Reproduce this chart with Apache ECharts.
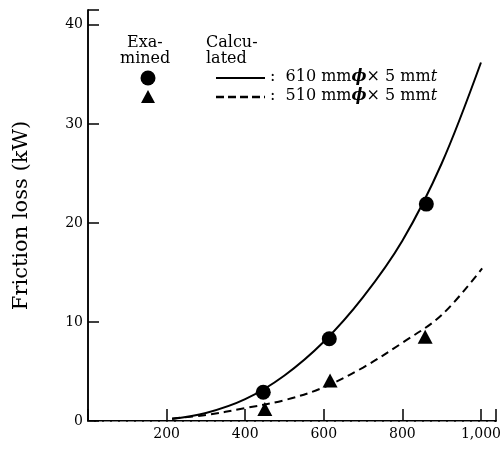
<!DOCTYPE html>
<html>
<head>
<meta charset="utf-8">
<script src="https://cdn.jsdelivr.net/npm/echarts@6/dist/echarts.min.js"></script>
<style>html,body{margin:0;padding:0;background:#fff;}#c{width:504px;height:468px;}</style>
</head>
<body>
<div id="c"></div>
<script>
// x ticks and labels
const xTicks = [200, 400, 600, 800, 1000];
const xTickLabels = ['200', '400', '600', '800', '1,000'];
const yTicks = [0, 10, 20, 30, 40];

// Calculated curve 610 mm (solid)
const calc610X = [214, 300, 400, 500, 600, 700, 800, 900, 1000];
const calc610Y = [0.2, 0.8, 2.2, 4.6, 8.0, 12.5, 18.2, 26.0, 36.2];

// Calculated curve 510 mm (dashed)
const calc510X = [214, 300, 400, 500, 600, 700, 800, 900, 1003];
const calc510Y = [0.25, 0.6, 1.3, 2.1, 3.4, 5.4, 7.9, 10.7, 15.4];

// Examined points
const exam610X = [446, 614, 861];
const exam610Y = [2.9, 8.3, 21.9];
const exam510X = [450, 616, 858];
const exam510Y = [1.2, 4.1, 8.5];

const zip = (a, b) => a.map((v, i) => [v, b[i]]);
const serif = 'DejaVu Serif';
const rich = {
  a: { font: '16px "DejaVu Serif"', fill: '#000' },
  b: { font: 'bold italic 16px "DejaVu Serif"', fill: '#000' },
  i: { font: 'italic 16px "DejaVu Serif"', fill: '#000' }
};

const chart = echarts.init(document.getElementById('c'));
chart.setOption({
  backgroundColor: '#fff',
  animation: false,
  grid: { left: 88, top: 10, width: 412, height: 411 },
  xAxis: [{
    type: 'value', min: 0, max: 1038, interval: 200,
    axisLine: { show: true, lineStyle: { color: '#000', width: 2 } },
    axisTick: { show: true, inside: true, length: 12, lineStyle: { color: '#000', width: 1.5 } },
    axisLabel: {
      color: '#000', fontFamily: serif, fontSize: 14, margin: 6,
      formatter: v => { const i = xTicks.indexOf(v); return i >= 0 ? xTickLabels[i] : ''; }
    },
    splitLine: { show: false }
  }, {
    type: 'value', min: 0, max: 1038, position: 'top',
    axisLine: { show: true, lineStyle: { color: '#888', width: 1, type: [6, 2] } },
    axisTick: { show: false }, axisLabel: { show: false }, splitLine: { show: false }
  }],
  yAxis: [{
    type: 'value', min: 0, max: 41.5, interval: 10,
    name: 'Friction loss (kW)', nameLocation: 'middle', nameGap: 56, nameRotate: 90,
    nameTextStyle: { color: '#000', fontFamily: serif, fontSize: 21 },
    axisLine: { show: true, lineStyle: { color: '#000', width: 1.5 } },
    axisTick: { show: true, inside: true, length: 11, lineStyle: { color: '#000', width: 1.5 } },
    axisLabel: {
      color: '#000', fontFamily: serif, fontSize: 14, margin: 5,
      formatter: v => yTicks.indexOf(v) >= 0 ? String(v) : ''
    },
    splitLine: { show: false }
  }, {
    type: 'value', min: 0, max: 41.5, position: 'right',
    axisLine: { show: true, lineStyle: { color: '#000', width: 1.5 } },
    axisTick: { show: false }, axisLabel: { show: false }, splitLine: { show: false }
  }],
  series: [
    { type: 'line', data: zip(calc610X, calc610Y), smooth: 0.35, showSymbol: false,
      lineStyle: { color: '#000', width: 2 } },
    { type: 'line', data: zip(calc510X, calc510Y), smooth: 0.35, showSymbol: false,
      lineStyle: { color: '#000', width: 2, type: [8, 5] } },
    { type: 'scatter', data: zip(exam610X, exam610Y), symbol: 'circle', symbolSize: 15,
      itemStyle: { color: '#000', opacity: 1 } },
    { type: 'scatter', data: zip(exam510X, exam510Y), symbol: 'triangle', symbolSize: [15, 14],
      itemStyle: { color: '#000', opacity: 1 } }
  ],
  graphic: [
    { type: 'text', left: 127, top: 35, style: { text: 'Exa-', font: '16px "DejaVu Serif"', fill: '#000' } },
    { type: 'text', left: 120, top: 51, style: { text: 'mined', font: '16px "DejaVu Serif"', fill: '#000' } },
    { type: 'text', left: 206, top: 35, style: { text: 'Calcu-', font: '16px "DejaVu Serif"', fill: '#000' } },
    { type: 'text', left: 206, top: 51, style: { text: 'lated', font: '16px "DejaVu Serif"', fill: '#000' } },
    { type: 'circle', shape: { cx: 148, cy: 78, r: 7.5 }, style: { fill: '#000' } },
    { type: 'polygon', shape: { points: [[148, 90], [141, 103], [155, 103]] }, style: { fill: '#000' } },
    { type: 'line', shape: { x1: 216, y1: 78, x2: 265, y2: 78 }, style: { stroke: '#000', lineWidth: 2 } },
    { type: 'line', shape: { x1: 216, y1: 97, x2: 265, y2: 97 }, style: { stroke: '#000', lineWidth: 2.5, lineDash: [8, 4] } },
    { type: 'text', left: 270, top: 69, style: { text: '{a|:  610 mm}{b|ϕ}{a|× 5 mm}{i|t}', rich: rich } },
    { type: 'text', left: 270, top: 88, style: { text: '{a|:  510 mm}{b|ϕ}{a|× 5 mm}{i|t}', rich: rich } }
  ]
});
</script>
</body>
</html>
